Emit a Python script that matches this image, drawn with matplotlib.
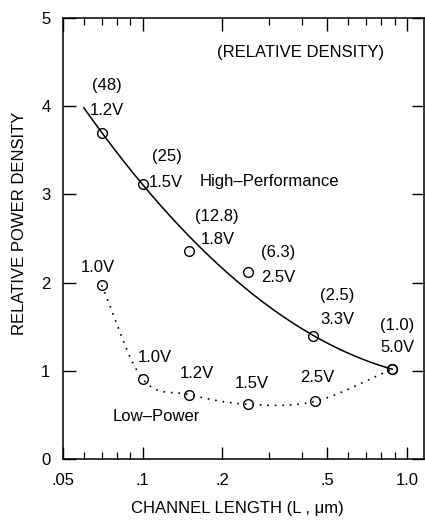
import numpy as np
import matplotlib
matplotlib.use("Agg")
import matplotlib.pyplot as plt
from matplotlib import font_manager
from matplotlib.ticker import FixedLocator, LogLocator, NullFormatter

names = {f.name for f in font_manager.fontManager.ttflist}
if 'Liberation Sans Narrow' in names:
    FAM, FS = 'Liberation Sans Narrow', 13.5
else:
    FAM, FS = 'Liberation Sans', 12
plt.rcParams['font.family'] = [FAM, 'DejaVu Sans']

# ---- data ----
hp_L = [0.07, 0.10, 0.15, 0.25, 0.44, 0.88]
hp_density = [3.70, 3.12, 2.36, 2.12, 1.40, 1.02]
hp_on_curve = [True, True, False, False, True, True]   # points the drawn trend passes through
hp_volt = ["1.2V", "1.5V", "1.8V", "2.5V", "3.3V", "5.0V"]
hp_rel = ["(48)", "(25)", "(12.8)", "(6.3)", "(2.5)", "(1.0)"]

lp_L = [0.07, 0.10, 0.15, 0.25, 0.45, 0.88]
lp_density = [1.97, 0.91, 0.73, 0.62, 0.655, 1.02]
lp_volt = ["1.0V", "1.0V", "1.2V", "1.5V", "2.5V"]

x_ticks = [0.05, 0.1, 0.2, 0.5, 1.0]
x_ticklabels = [".05", ".1", ".2", ".5", "1.0"]
y_ticks = [0, 1, 2, 3, 4, 5]

# label positions (data coords)
hp_rel_pos = [(0.0731, 4.23), (0.1233, 3.43), (0.1907, 2.75), (0.325, 2.34), (0.543, 1.85), (0.916, 1.51)]
hp_volt_pos = [(0.0731, 3.95), (0.1222, 3.14), (0.193, 2.49), (0.325, 2.06), (0.543, 1.58), (0.916, 1.27)]
lp_volt_pos = [(0.0675, 2.17), (0.111, 1.15), (0.160, 0.97), (0.259, 0.86), (0.456, 0.92)]

fig = plt.figure(figsize=(4.25, 5.2), dpi=100)
ax = fig.add_axes([0.148, 0.1173, 0.85, 0.848])
ax.set_xscale('log')
ax.set_xlim(0.05, 1.16)
ax.set_ylim(0, 5)

# High-performance: quadratic trend in log(L)
m = np.array(hp_on_curve)
u = np.log10(np.array(hp_L)[m])
coef = np.polyfit(u, np.array(hp_density)[m], 2)
xs = np.geomspace(0.06, hp_L[-1], 200)
ax.plot(xs, np.polyval(coef, np.log10(xs)), color='black', lw=1.1)
ax.plot(hp_L, hp_density, 'o', mfc='none', mec='black', ms=7, mew=1.0)

# Low-power: smooth (Catmull-Rom) curve through points, dotted
P = np.column_stack([np.log10(lp_L), lp_density])
P = np.vstack([2 * P[0] - P[1], P, 2 * P[-1] - P[-2]])
segs = []
t = np.linspace(0, 1, 40)[:, None]
for i in range(1, len(P) - 2):
    p0, p1, p2, p3 = P[i - 1], P[i], P[i + 1], P[i + 2]
    seg = 0.5 * ((2 * p1) + (-p0 + p2) * t + (2 * p0 - 5 * p1 + 4 * p2 - p3) * t ** 2
                 + (-p0 + 3 * p1 - 3 * p2 + p3) * t ** 3)
    segs.append(seg)
curve = np.vstack(segs)
ax.plot(10 ** curve[:, 0], curve[:, 1], color='black', lw=1.2, linestyle=(0, (1, 3.5)))
ax.plot(lp_L, lp_density, 'o', mfc='none', mec='black', ms=7, mew=1.0)

for s, (x, y) in zip(hp_rel, hp_rel_pos):
    ax.text(x, y, s, ha='center', va='center', fontsize=FS)
for s, (x, y) in zip(hp_volt, hp_volt_pos):
    ax.text(x, y, s, ha='center', va='center', fontsize=FS)
for s, (x, y) in zip(lp_volt, lp_volt_pos):
    ax.text(x, y, s, ha='center', va='center', fontsize=FS)

ax.text(0.397, 4.61, "(RELATIVE DENSITY)", ha='center', va='center', fontsize=FS)
ax.text(0.1644, 3.15, "High\u2013Performance", ha='left', va='center', fontsize=FS)
ax.text(0.113, 0.48, "Low\u2013Power", ha='center', va='center', fontsize=FS)

ax.xaxis.set_major_locator(FixedLocator(x_ticks))
ax.set_xticklabels(x_ticklabels)
ax.xaxis.set_minor_locator(LogLocator(base=10, subs=np.arange(2, 10)))
ax.xaxis.set_minor_formatter(NullFormatter())
ax.set_yticks(y_ticks)
ax.tick_params(axis='both', which='major', direction='in', length=9, width=1.0,
               labelsize=FS, top=True, right=True)
ax.tick_params(axis='x', which='minor', direction='in', length=5, width=0.9, top=True)
ax.tick_params(axis='x', which='major', pad=10)
ax.tick_params(axis='y', which='major', pad=9)
for sp in ax.spines.values():
    sp.set_linewidth(1.1)

fig.text(237 / 425, 1 - 508 / 520, "CHANNEL LENGTH (L , \u03bcm)", ha='center', va='center', fontsize=FS)
fig.text(20 / 425, 1 - 223 / 520, "RELATIVE POWER DENSITY", ha='center', va='center',
         rotation=90, fontsize=FS)

fig.savefig("out.png", dpi=100)
